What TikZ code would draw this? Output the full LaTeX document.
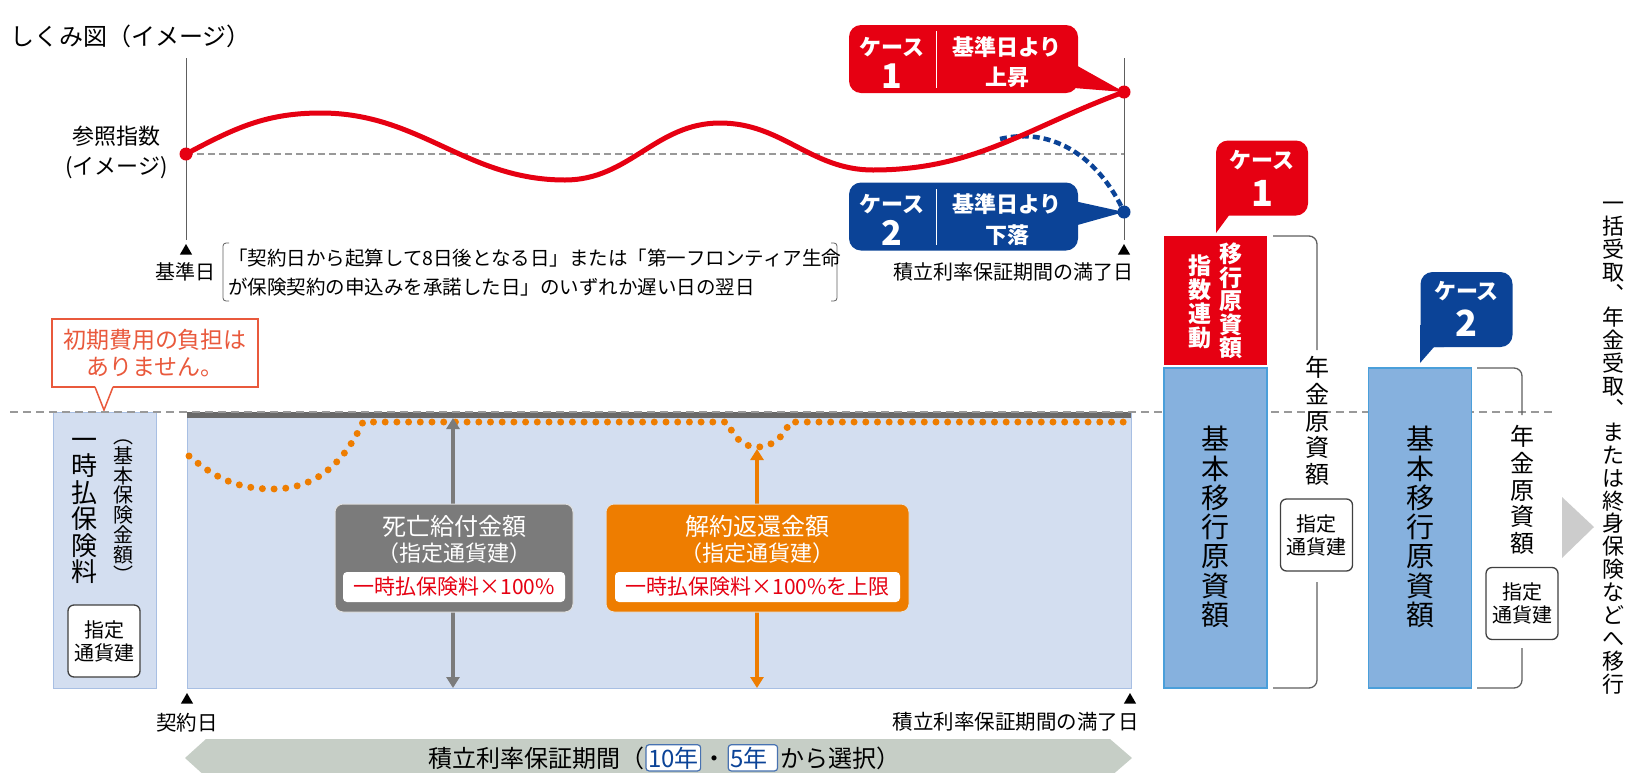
\documentclass[tikz,border=0pt]{standalone}
\usepackage{fontspec}
\setmainfont{Noto Sans CJK JP}
\usetikzlibrary{positioning,arrows.meta,shapes.geometric}

\definecolor{casered}{HTML}{E60012}
\definecolor{caseblue}{HTML}{0B4397}
\definecolor{fundorange}{HTML}{EE7D00}
\definecolor{regionblue}{HTML}{D3DEF0}
\definecolor{regionedge}{HTML}{A8BFE3}
\definecolor{boxblue}{HTML}{86B1DE}
\definecolor{boxedge}{HTML}{4A9FDA}
\definecolor{benefitgray}{HTML}{7B7B7B}
\definecolor{bandgray}{HTML}{C6CEC6}
\definecolor{noteorange}{HTML}{E9593C}
\definecolor{axisgray}{HTML}{5E5E5E}

\newcommand{\fs}[1]{\fontsize{#1}{#1}\selectfont}

\tikzset{
  lbl/.style={inner sep=0pt, font=\fs{20}},
  tate/.style={inner sep=0pt, align=center},
  daytri/.style={fill=black, regular polygon, regular polygon sides=3, minimum size=14pt, inner sep=0pt},
  casebox/.style={rounded corners=12pt, minimum width=229pt, minimum height=68pt, inner sep=0pt},
  casetag/.style={rounded corners=12pt, minimum width=92pt, minimum height=75pt, inner sep=0pt},
  tagtxt/.style={inner sep=0pt, text=white, font=\bfseries\fs{22}},
  region/.style={fill=regionblue, draw=regionedge, line width=1pt, inner sep=0pt},
  fundbox/.style={fill=boxblue, draw=boxedge, line width=1.2pt, inner sep=0pt, minimum width=103pt, minimum height=320pt},
  ccy/.style={draw=black!75, line width=1.3pt, rounded corners=6pt, fill=white, minimum width=72pt, minimum height=72pt,
    align=center, inner sep=0pt, font=\fontsize{20}{23}\selectfont},
  benefit/.style={rounded corners=8pt, draw=white!75!gray, line width=1pt, minimum height=108pt, inner sep=0pt},
  ratebox/.style={fill=white, rounded corners=4pt, minimum height=30pt, inner sep=0pt, text=casered, font=\fs{21}},
  yrbox/.style={draw=caseblue!75, fill=white, rounded corners=3pt, line width=1.2pt, text=caseblue, font=\fs{24}, inner sep=2pt},
  bracket/.style={axisgray, line width=1.3pt, rounded corners=8pt},
  arr/.style={line width=4pt, {Triangle[width=13pt,length=11pt]}-{Triangle[width=13pt,length=11pt]}}
}

\begin{document}
\begin{tikzpicture}[x=1pt, y=-1pt]
  \useasboundingbox (0,0) rectangle (1626,772);

  % Title
  \node[anchor=west, inner sep=0pt, font=\fs{24}] (title) at (10,36) {しくみ図（イメージ）};

  % Reference index chart
  \coordinate (kijun) at (186,154);
  \coordinate (up) at (1124,92);
  \coordinate (down) at (1124,212);
  \draw[axisgray, line width=1pt] (186,58) -- (186,240);
  \draw[axisgray, line width=1pt] (1124,58) -- (1124,240);
  \draw[gray!80, line width=1.2pt, dash pattern=on 7pt off 4pt] (kijun) -- (1124,154);
  \node[anchor=east, align=center, inner sep=0pt, font=\fontsize{22}{30}\selectfont] (idx) at (168,152) {参照指数\\(イメージ)};

  \draw[caseblue, line width=4.5pt, dash pattern=on 7pt off 4pt] (1000,139) .. controls (1055,126) and (1100,160) .. (down);
  \draw[casered, line width=5pt] (kijun) to[out=28,in=180] (321,113) to[out=0,in=180] (565,180)
    to[out=0,in=180] (720,123) to[out=0,in=180] (873,170) to[out=0,in=200] (up);
  \fill[casered] (kijun) circle (6.5pt);
  \fill[casered] (up) circle (6.5pt);
  \fill[caseblue] (down) circle (6.5pt);

  % Case 1 / Case 2 callouts
  \node[casebox, fill=casered] (case1) at (963.5,59) {};
  \fill[casered] (1074,64) -- (up) -- (1074,88) -- cycle;
  \draw[white, line width=1pt] (936,31) -- (936,88);
  \node[tagtxt] (c1a) at (892,47) {ケース};
  \node[tagtxt, font=\bfseries\fs{34}] (c1b) at (892,76) {1};
  \node[tagtxt] (c1c) at (1007,47) {基準日より};
  \node[tagtxt] (c1d) at (1007,77) {上昇};

  \node[casebox, fill=caseblue] (case2) at (963.5,216.5) {};
  \fill[caseblue] (1074,201) -- (down) -- (1074,226) -- cycle;
  \draw[white, line width=1pt] (936,189) -- (936,245);
  \node[tagtxt] (c2a) at (892,204) {ケース};
  \node[tagtxt, font=\bfseries\fs{34}] (c2b) at (892,233) {2};
  \node[tagtxt] (c2c) at (1007,204) {基準日より};
  \node[tagtxt] (c2d) at (1007,235) {下落};

  % Dates of the chart
  \node[daytri] (t1) at (186,251) {};
  \node[daytri] (t2) at (1124,251) {};
  \node[lbl] (kijunlbl) at (185,272) {基準日};
  \node[lbl, anchor=east] (endtop) at (1134,272) {積立利率保証期間の満了日};
  \draw[axisgray, line width=0.8pt, rounded corners=3pt] (229,243) -- (223,243) -- (223,301) -- (229,301);
  \draw[axisgray, line width=0.8pt, rounded corners=3pt] (831,243) -- (837,243) -- (837,301) -- (831,301);
  \node[lbl, anchor=west, font=\fs{19.5}] (note1) at (228,258) {「契約日から起算して8日後となる日」または「第一フロンティア生命};
  \node[lbl, anchor=west, font=\fs{19.5}] (note2) at (228,287) {が保険契約の申込みを承諾した日」のいずれか遅い日の翌日};

  % No initial cost note
  \node[draw=noteorange, line width=1.5pt, fill=white, minimum width=206pt, minimum height=68pt, inner sep=0pt,
    text=noteorange, align=center, font=\fontsize{23}{27}\selectfont] (nofee) at (155,353) {初期費用の負担は\\ありません。};
  \fill[white] (95,386) -- (104,410) -- (113,386) -- cycle;
  \draw[noteorange, line width=1.5pt] (95,387) -- (104,410) -- (113,387);

  % Premium and guarantee period
  \node[region, minimum width=103pt, minimum height=276pt] (premium) at (104.5,550) {};
  \node[region, minimum width=944pt, minimum height=276pt] (period) at (659,550) {};
  \fill[benefitgray!85!black] (187,412) rectangle (1131,418);
  \draw[gray!80, line width=1.2pt, dash pattern=on 8pt off 5pt] (10,412) -- (1552,412);

  \node[tate, font=\fontsize{26}{26.4}\selectfont] (premtxt) at (84,511) {一\\時\\払\\保\\険\\料};
  \node[tate, font=\fontsize{20}{19.8}\selectfont] (basetxt) at (123,511) {︵\\基\\本\\保\\険\\金\\額\\︶};
  \node[ccy] (ccy0) at (104,641) {指定\\通貨建};

  \draw[fundorange, line width=7pt, line cap=round, dash pattern=on 0pt off 11.7pt]
    (189,456) to[out=-40,in=180] (273,489) to[out=0,in=-115] (363,422) -- (727,422)
    to[out=-65,in=180] (757,447) to[out=0,in=-115] (790,422) -- (1128,422);

  \coordinate (dtop) at (453,418);
  \coordinate (dbot) at (453,688);
  \coordinate (stop) at (757,449);
  \coordinate (sbot) at (757,688);
  \draw[arr, benefitgray] (dtop) -- (dbot);
  \draw[arr, fundorange] (stop) -- (sbot);

  \node[benefit, fill=benefitgray, minimum width=238pt] (death) at (454,558) {};
  \node[inner sep=0pt, text=white, font=\fs{24}] (deathttl) at (454,526) {死亡給付金額};
  \node[inner sep=0pt, text=white, font=\fs{22}] (deathccy) at (454,553) {（指定通貨建）};
  \node[ratebox, minimum width=222pt] (deathrate) at (454,587) {一時払保険料×100\%};

  \node[benefit, fill=fundorange, minimum width=303pt] (surr) at (757.5,558) {};
  \node[inner sep=0pt, text=white, font=\fs{24}] (surrttl) at (757.5,526) {解約返還金額};
  \node[inner sep=0pt, text=white, font=\fs{22}] (surrccy) at (757.5,553) {（指定通貨建）};
  \node[ratebox, minimum width=285pt] (surrrate) at (757.5,587) {一時払保険料×100\%を上限};

  \node[daytri] (t3) at (187,700) {};
  \node[daytri] (t4) at (1130,700) {};
  \node[lbl, font=\fs{20.5}] (contract) at (187,723) {契約日};
  \node[lbl, anchor=east, font=\fs{20.5}] (endbot) at (1139,722) {積立利率保証期間の満了日};

  % Period band
  \fill[bandgray] (185,758) -- (206,739) -- (1110,739) -- (1132,758) -- (1110,777) -- (206,777) -- cycle;
  \node[lbl, font=\fs{24}, anchor=base west] (bandl) at (428,767) {積立利率保証期間（};
  \node[yrbox, base right=1pt of bandl] (y10) {10年};
  \node[lbl, font=\fs{24}, base right=1pt of y10] (ydot) {・};
  \node[yrbox, base right=1pt of ydot] (y5) {5年\kern8pt};
  \node[lbl, font=\fs{24}, base right=2pt of y5] (bandr) {から選択）};

  % Case 1 transition
  \node[casetag, fill=casered] (tag1) at (1262,178) {};
  \fill[casered] (1216,195) -- (1216,233) -- (1230,214) -- (1240,214) -- (1240,195) -- cycle;
  \node[tagtxt] (t1a) at (1262,160) {ケース};
  \node[tagtxt, font=\bfseries\fs{36}] (t1b) at (1262,193) {1};
  \node[fill=casered, minimum width=103pt, minimum height=129pt, inner sep=0pt] (linked) at (1215.5,300.5) {};
  \node[tate, text=white, font=\bfseries\fontsize{23}{23.6}\selectfont] (linkeda) at (1231,301) {移\\行\\原\\資\\額};
  \node[tate, text=white, font=\bfseries\fontsize{23}{24}\selectfont] (linkedb) at (1200,302) {指\\数\\連\\動};
  \node[fundbox] (base1) at (1215.5,528) {};
  \node[tate, font=\fontsize{28}{29.3}\selectfont] (base1txt) at (1215,527) {基\\本\\移\\行\\原\\資\\額};
  \draw[bracket] (1273,236) -- (1317,236) -- (1317,350);
  \node[tate, font=\fontsize{24}{26.6}\selectfont] (ann1) at (1317,421) {年\\金\\原\\資\\額};
  \node[ccy] (ccy1) at (1316.5,535) {指定\\通貨建};
  \draw[bracket] (1317,582) -- (1317,688) -- (1273,688);

  % Case 2 transition
  \node[casetag, fill=caseblue] (tag2) at (1466.5,309.5) {};
  \fill[caseblue] (1420,325) -- (1420,363) -- (1434,347) -- (1444,347) -- (1444,325) -- cycle;
  \node[tagtxt] (t2a) at (1466.5,291) {ケース};
  \node[tagtxt, font=\bfseries\fs{36}] (t2b) at (1466.5,323) {2};
  \node[fundbox] (base2) at (1420,528) {};
  \node[tate, font=\fontsize{28}{29.3}\selectfont] (base2txt) at (1420,527) {基\\本\\移\\行\\原\\資\\額};
  \draw[bracket] (1477,368) -- (1522,368) -- (1522,415);
  \node[tate, font=\fontsize{24}{26.6}\selectfont] (ann2) at (1522,490) {年\\金\\原\\資\\額};
  \node[ccy] (ccy2) at (1522,603.5) {指定\\通貨建};
  \draw[bracket] (1522,648) -- (1522,688) -- (1477,688);

  % Transition
  \fill[gray!40] (1562,497) -- (1594,527) -- (1562,558) -- cycle;
  \node[tate, font=\fontsize{22}{22.9}\selectfont] (exit) at (1613,448)
    {一\\括\\受\\取\\︑\\年\\金\\受\\取\\︑\\ま\\た\\は\\終\\身\\保\\険\\な\\ど\\へ\\移\\行};
\end{tikzpicture}
\end{document}
